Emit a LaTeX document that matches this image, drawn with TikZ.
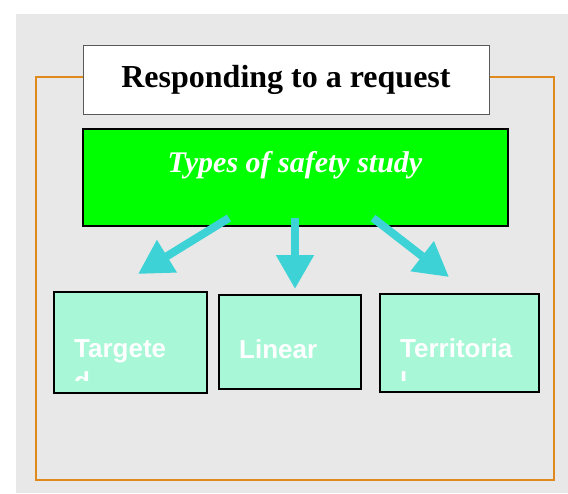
\documentclass[tikz,border=0pt]{standalone}
\usepackage{fontspec}
\setmainfont{Liberation Serif}
\setsansfont{Liberation Sans}
\usepackage{tikz}
\usetikzlibrary{
  positioning,
  arrows.meta
}
\usepackage{xcolor}
\definecolor{paper}{HTML}{E8E8E8}
\definecolor{frameorange}{HTML}{E08A1E}
\definecolor{typesgreen}{HTML}{00FF00}
\definecolor{studymint}{HTML}{A8F8D8}
\definecolor{pointcyan}{HTML}{3DD3D6}

\begin{document}
\begin{tikzpicture}[x=1pt,y=-1pt,
    studybox/.style={draw=black,line width=1.5pt,fill=studymint,anchor=north west},
    studytext/.style={text=white,font=\sffamily\bfseries\fontsize{26}{33}\selectfont,
      align=left,anchor=base west,inner sep=0pt},
    pointer/.style={pointcyan,line width=8pt,-{Triangle[width=36pt,length=34pt]}}]
                \useasboundingbox (0,0) rectangle (568,493);
                \fill[paper] (16,14) rectangle (568,493);
                \draw[frameorange,line width=1.5pt] (36,77) rectangle (554,480);
                \node[draw=black!65,line width=1pt,fill=white,anchor=north west,
                  minimum width=406pt,minimum height=69pt] (title) at (83,45) {};
                \node[font=\bfseries\fontsize{32}{36}\selectfont,anchor=base,inner sep=0pt]
                  (titletext) at (286,87) {Responding to a request};
                \node[draw=black,line width=1.5pt,fill=typesgreen,anchor=north west,
                  minimum width=425pt,minimum height=97pt] (types) at (82,128) {};
                \node[text=white,font=\bfseries\itshape\fontsize{30}{36}\selectfont,anchor=base,inner sep=0pt]
                  (typestext) at (295,172) {Types of safety study};
                \node[studybox,minimum width=153pt,minimum height=101pt] (targeted) at (53,291) {};
                \node[studybox,minimum width=142pt,minimum height=94pt] (linear) at (218,294) {};
                \node[studybox,minimum width=159pt,minimum height=98pt] (territorial) at (379,293) {};
                \begin{scope}
                  \clip (53,291) rectangle (538,380);
                  \node[studytext] (targetedtext) at (74,390) {Targete\\d};
                  \node[studytext] (lineartext) at (239,358) {Linear};
                  \node[studytext] (territorialtext) at (400,390) {Territoria\\l};
                \end{scope}
                \coordinate (leftstart) at (229,218);
                \coordinate (midstart) at (295,218);
                \coordinate (rightstart) at (373,218);
                \coordinate (lefttip) at (138,274);
                \coordinate (midtip) at (295,289);
                \coordinate (righttip) at (449,277);
                \draw[pointer] (leftstart) -- (lefttip);
                \draw[pointer] (midstart) -- (midtip);
                \draw[pointer] (rightstart) -- (righttip);
            \end{tikzpicture}
\end{document}
